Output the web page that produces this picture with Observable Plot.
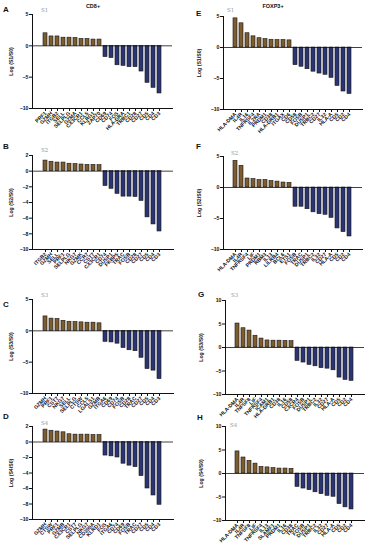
<!DOCTYPE html>
<html><head><meta charset="utf-8">
<script src="https://cdn.jsdelivr.net/npm/d3@7"></script>
<script src="https://cdn.jsdelivr.net/npm/@observablehq/plot@0.6"></script>
<style>
body{margin:0;background:#fff;font-family:Arial,"Liberation Sans",sans-serif}
#wrap{position:relative;width:370px;height:550px;overflow:hidden;background:#fff}
.panel{position:absolute}
.panel svg text{fill:#111;font-weight:bold}
.letter{position:absolute;font-weight:bold;font-size:8px;line-height:8px;color:#111}
.title{position:absolute;font-weight:bold;font-size:5.5px;line-height:6px;color:#111;transform:translateX(-50%)}
.stage{position:absolute;font-size:5.5px;line-height:6px;color:#999;font-family:"DejaVu Serif",serif}
</style></head><body><div id="wrap"></div>
<script>
// ---- data ----
const genesA = ["PRF1","GZMH","ITGB2","SELL","SELPLG","GZMA","CX3CR1","CCL5","KLRG1","ZAP70","CD69","CD74","FOS","HLA-DRA","TRBC1","CD28","CD27","CD5","CD4","CD3"];
const valuesA = [2.0,1.5,1.5,1.3,1.3,1.25,1.1,1.1,1.0,1.0,-1.8,-1.95,-3.1,-3.2,-3.4,-3.4,-4.1,-5.9,-6.7,-7.6];
const genesB = ["ITGB2","GZMH","SELL","PRF1","SELPLG","NKG7","GZMK","CCR7","CST7","CX3CR1","CD74","DUSP1","FKBP5","TRAC","FOSB","CD28","CD27","CD5","CD4","CD3"];
const valuesB = [1.35,1.2,1.1,1.1,0.95,0.9,0.85,0.8,0.8,0.77,-1.9,-2.25,-2.9,-3.25,-3.25,-3.3,-3.8,-5.9,-6.8,-7.7];
const genesC = ["GZMH","PRF1","CST7","NKG7","SELL","SELPLG","CTSW","CCL5","LGALS1","GZMB","ITGA6","CD69","CD74","FOSB","CD28","TRAC","CD27","CD5","CD4","CD3"];
const valuesC = [2.3,1.95,1.9,1.6,1.45,1.4,1.35,1.3,1.3,1.2,-1.75,-1.85,-2.05,-2.75,-3.1,-3.25,-4.3,-6.1,-6.35,-7.7];
const genesD = ["GZMH","CTSW","PRF1","GZMB","CX3CR1","CST7","SELPLG","NKG7","CD300A","KLRD1","FOS","ITGA6","CD74","CD69","FOSB","TRAC","CD27","CD5","CD4","CD3"];
const valuesD = [1.6,1.45,1.35,1.25,1.0,0.95,0.95,0.95,0.9,0.9,-1.75,-1.85,-2.0,-2.8,-3.05,-3.25,-4.4,-6.0,-6.9,-8.1];
const genesE = ["HLA-DMA","IL4R","IL16","TNFRSF4","IL2RA","PRDM1","CD38","HLA-DRB1","ITGAX","CD6","CD58","FOSB","DUSP1","TRBC2","CD27","IL32","HLA-A","CD5","CD2","CD4"];
const valuesE = [4.7,3.9,2.3,1.8,1.5,1.35,1.25,1.2,1.2,1.15,-2.85,-3.1,-3.5,-3.9,-4.2,-4.4,-4.9,-6.2,-7.1,-7.5];
const genesF = ["HLA-DMA","IL4R","TNFRSF4","LIF","PRDM1","RBM3","IL13","LILRB4","BCL6","ETS1","FOSB","TRAC","DUSP1","TRBC2","IL32","CD27","HLA-A","CD5","CD2","CD4"];
const valuesF = [4.3,3.5,1.45,1.35,1.2,1.2,1.05,0.95,0.8,0.75,-3.1,-3.1,-3.5,-4.0,-4.3,-4.4,-4.9,-6.6,-7.2,-7.9];
const genesG = ["HLA-DMA","IL4R","TNFSF8","LIF","TNFRSF4","ICAM1","HLA-DRB1","CD38","IL16","CD58","CXCR4","FOSB","DUSP1","TRBC2","IL32","CD27","HLA-A","CD5","CD2","CD4"];
const valuesG = [5.1,4.1,3.6,2.5,1.9,1.5,1.45,1.45,1.4,1.35,-2.85,-3.2,-3.7,-4.0,-4.4,-4.5,-4.85,-6.4,-6.9,-7.1];
const genesH = ["HLA-DMA","IL4R","TNFSF8","LIF","TNFRSF4","IL13","SLAMF1","PRDM1","IL16","CD38","TRAC","FOSB","DUSP1","TRBC2","IL32","CD27","HLA-A","CD5","CD2","CD4"];
const valuesH = [4.7,3.4,2.7,2.1,1.4,1.3,1.15,1.05,1.05,1.0,-2.85,-3.2,-3.55,-4.0,-4.4,-4.75,-4.95,-6.5,-7.2,-7.65];

const ticks5 = [-10,-5,0,5];
const ticks2 = [-10,-8,-6,-4,-2,0,2];
const ticks10 = [-10,-5,0,5,10];
const titles = [{text:"CD8+", x:93, y:3},{text:"FOXP3+", x:273, y:3}];

// ---- layout ----
const panels = [
  {id:"A", genes:genesA, values:valuesA, domain:[-10,5], ticks:ticks5, stage:"S1", left:0, axisX:32, endX:172, yTop:14, yBot:108, letter:[3,6], stagePos:[41,7]},
  {id:"B", genes:genesB, values:valuesB, domain:[-10,2], ticks:ticks2, stage:"S2", left:0, axisX:32, endX:173, yTop:155, yBot:249, letter:[3,143], stagePos:[41,147]},
  {id:"C", genes:genesC, values:valuesC, domain:[-10,5], ticks:ticks5, stage:"S3", left:0, axisX:32, endX:173, yTop:299, yBot:393, letter:[3,301], stagePos:[41,292]},
  {id:"D", genes:genesD, values:valuesD, domain:[-10,2], ticks:ticks2, stage:"S4", left:0, axisX:32, endX:173, yTop:426, yBot:519, letter:[3,413], stagePos:[41,420]},
  {id:"E", genes:genesE, values:valuesE, domain:[-10,5], ticks:ticks5, stage:"S1", left:185, axisX:223, endX:362, yTop:16, yBot:109, letter:[196,10], stagePos:[227,7]},
  {id:"F", genes:genesF, values:valuesF, domain:[-10,5], ticks:ticks5, stage:"S2", left:185, axisX:223, endX:362, yTop:156, yBot:249, letter:[196,143], stagePos:[231,150]},
  {id:"G", genes:genesG, values:valuesG, domain:[-10,10], ticks:ticks10, stage:"S3", left:185, axisX:225, endX:364, yTop:300, yBot:394, letter:[198,291], stagePos:[231,292]},
  {id:"H", genes:genesH, values:valuesH, domain:[-10,10], ticks:ticks10, stage:"S4", left:185, axisX:225, endX:364, yTop:426, yBot:520, letter:[197,414], stagePos:[230,422]}
];

const wrap = document.getElementById("wrap");
const mt = 6, mb = 30;

for (const p of panels) {
  const data = p.genes.map((g,i)=>({gene:g, value:p.values[i]}));
  const w = 185;
  const chart = Plot.plot({
    width: w,
    height: (p.yBot - p.yTop) + mt + mb,
    marginTop: mt, marginBottom: mb,
    marginLeft: p.axisX - p.left,
    marginRight: p.left + w - p.endX,
    style: {fontSize:"5.2px", fontFamily:"Arial, 'Liberation Sans', sans-serif", color:"#111", background:"transparent", overflow:"visible"},
    x: {domain: p.genes, padding: 0.27, label: null},
    y: {domain: p.domain, label: null},
    marks: [
      Plot.barY(data, {x:"gene", y:"value", fill: d => d.value >= 0 ? "#7d5d2f" : "#2b3574", stroke:"#151515", strokeWidth:0.6}),
      Plot.ruleY([0], {stroke:"#111", strokeWidth:0.8}),
      Plot.axisY({ticks: p.ticks, tickSize:3, tickPadding:1, label:`Log (${p.stage}/S0)`, labelAnchor:"center", labelArrow:"none", labelOffset: p.left ? 26 : 23}),
      Plot.axisX({tickSize:3, tickPadding:1, tickRotate:-45, label:null}),
      Plot.frame({anchor:"left", stroke:"#111", strokeWidth:1}),
      Plot.frame({anchor:"bottom", stroke:"#111", strokeWidth:1})
    ]
  });
  const div = document.createElement("div");
  div.className = "panel";
  div.style.left = p.left + "px";
  div.style.top = (p.yTop - mt) + "px";
  div.appendChild(chart);
  wrap.appendChild(div);

  const L = document.createElement("div");
  L.className = "letter"; L.textContent = p.id;
  L.style.left = p.letter[0] + "px"; L.style.top = p.letter[1] + "px";
  wrap.appendChild(L);

  const S = document.createElement("div");
  S.className = "stage"; S.textContent = p.stage;
  S.style.left = p.stagePos[0] + "px"; S.style.top = p.stagePos[1] + "px";
  wrap.appendChild(S);
}
for (const t of titles) {
  const T = document.createElement("div");
  T.className = "title"; T.textContent = t.text;
  T.style.left = t.x + "px"; T.style.top = t.y + "px";
  wrap.appendChild(T);
}
</script>
</body></html>
